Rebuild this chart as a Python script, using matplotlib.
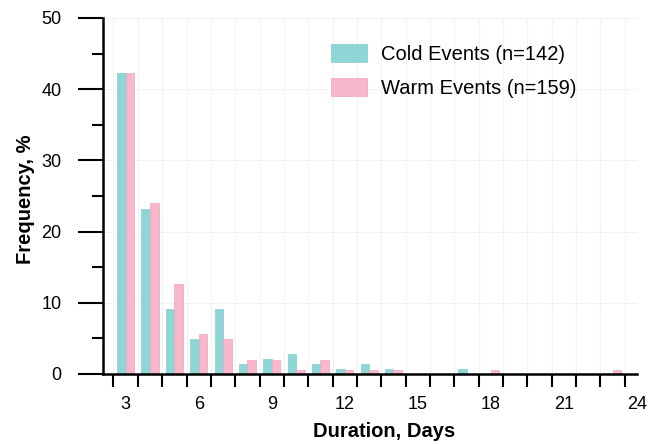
import matplotlib
matplotlib.use("Agg")
import matplotlib.pyplot as plt
import numpy as np
from matplotlib.ticker import FixedLocator, MultipleLocator

plt.rcParams['font.family'] = ['Liberation Sans', 'DejaVu Sans']

days = [3, 4, 5, 6, 7, 8, 9, 10, 11, 12, 13, 14, 17, 18, 23]
cold = [42.3, 23.2, 9.1, 4.9, 9.1, 1.4, 2.1, 2.8, 1.4, 0.7, 1.4, 0.7, 0.7, 0.0, 0.0]
warm = [42.3, 24.0, 12.6, 5.6, 4.9, 2.0, 2.0, 0.6, 2.0, 0.6, 0.6, 0.6, 0.0, 0.6, 0.6]
xticks = [3, 6, 9, 12, 15, 18, 21, 24]
labels = ["Cold Events (n=142)", "Warm Events (n=159)"]
cold_color = "#8ed6d6"
warm_color = "#f9b7cc"

fig = plt.figure(figsize=(6.48, 4.44), dpi=100)
ax = fig.add_axes([103/648, 1-374/444, (637-103)/648, (374-18)/444])

x = np.array(days, dtype=float)
w = 0.35
ax.bar(x - w/2, cold, width=w, color=cold_color, edgecolor="#84cccc", linewidth=0.5, label=labels[0], zorder=2)
ax.bar(x + w/2, warm, width=w, color=warm_color, edgecolor="#eea5bd", linewidth=0.5, label=labels[1], zorder=2)

ax.set_xlim(2.07, 24.0)
ax.set_ylim(0, 50)

ax.xaxis.set_major_locator(FixedLocator(xticks))
ax.xaxis.set_minor_locator(FixedLocator(np.arange(2.5, 24.0, 1.0)))
ax.tick_params(axis='x', which='major', length=0, pad=16, labelsize=13)
ax.tick_params(axis='x', which='minor', length=9, width=1.5, direction='out')
ax.yaxis.set_major_locator(MultipleLocator(10))
ax.yaxis.set_minor_locator(MultipleLocator(5))
ax.tick_params(axis='y', which='major', length=18, width=1.5, pad=12, labelsize=13)
ax.tick_params(axis='y', which='minor', length=8, width=1.5)

ax.grid(True, which='minor', axis='x', color='#f2f2f2', linewidth=0.8, zorder=0)
ax.grid(True, which='major', axis='y', color='#f2f2f2', linewidth=0.8, zorder=0)
ax.set_axisbelow(True)

for s in ['top', 'right']:
    ax.spines[s].set_visible(False)
for s in ['left', 'bottom']:
    ax.spines[s].set_linewidth(1.8)

ax.set_ylabel("Frequency, %", fontsize=14.5, fontweight='bold')
ax.yaxis.set_label_coords(-0.127, 0.49)
ax.set_xlabel("Duration, Days", fontsize=14.5, fontweight='bold')
ax.xaxis.set_label_coords(0.527, -0.135)

leg = ax.legend(loc='upper left', bbox_to_anchor=((331-103)/534, 1-(44-18)/356),
                frameon=False, fontsize=14.5, handlelength=1.8, handleheight=1.0,
                handletextpad=0.7, labelspacing=0.7, borderaxespad=0, borderpad=0)

fig.savefig("out.png", dpi=100)
